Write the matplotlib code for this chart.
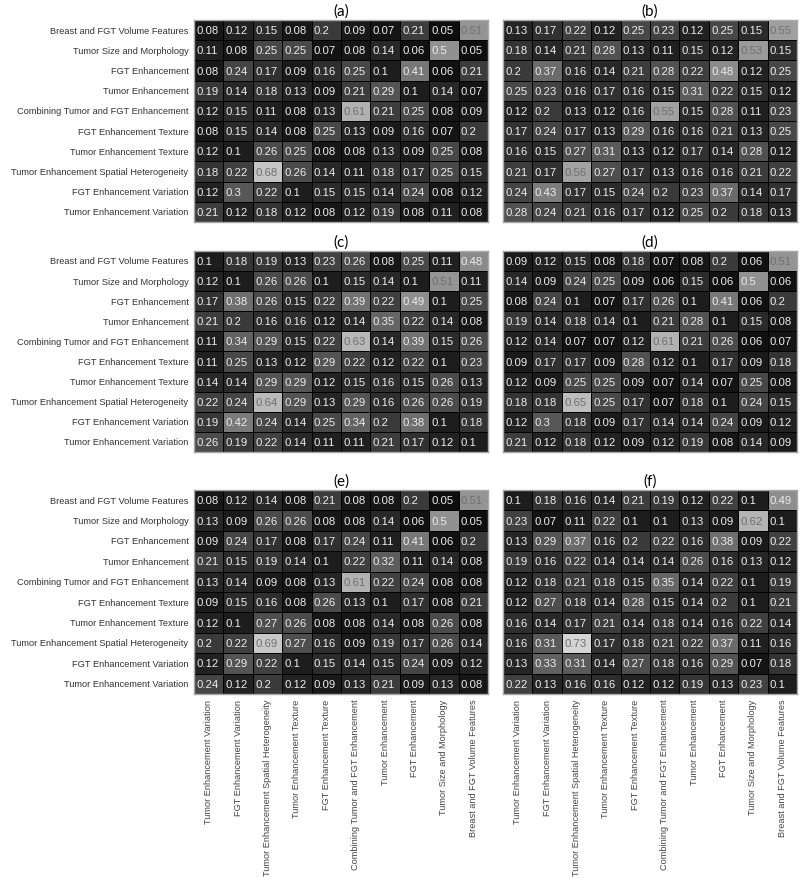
import numpy as np
import matplotlib
matplotlib.use('Agg')
import matplotlib.pyplot as plt

# Feature group names (rows top->bottom, columns are the reverse order)
row_labels = ['Breast and FGT Volume Features', 'Tumor Size and Morphology',
              'FGT Enhancement', 'Tumor Enhancement',
              'Combining Tumor and FGT Enhancement', 'FGT Enhancement Texture',
              'Tumor Enhancement Texture', 'Tumor Enhancement Spatial Heterogeneity',
              'FGT Enhancement Variation', 'Tumor Enhancement Variation']
col_labels = row_labels[::-1]

panel_titles = ['(a)', '(b)', '(c)', '(d)', '(e)', '(f)']

vals_a = [[0.08, 0.12, 0.15, 0.08, 0.2, 0.09, 0.07, 0.21, 0.05, 0.51],
          [0.11, 0.08, 0.25, 0.25, 0.07, 0.08, 0.14, 0.06, 0.5, 0.05],
          [0.08, 0.24, 0.17, 0.09, 0.16, 0.25, 0.1, 0.41, 0.06, 0.21],
          [0.19, 0.14, 0.18, 0.13, 0.09, 0.21, 0.29, 0.1, 0.14, 0.07],
          [0.12, 0.15, 0.11, 0.08, 0.13, 0.61, 0.21, 0.25, 0.08, 0.09],
          [0.08, 0.15, 0.14, 0.08, 0.25, 0.13, 0.09, 0.16, 0.07, 0.2],
          [0.12, 0.1, 0.26, 0.25, 0.08, 0.08, 0.13, 0.09, 0.25, 0.08],
          [0.18, 0.22, 0.68, 0.26, 0.14, 0.11, 0.18, 0.17, 0.25, 0.15],
          [0.12, 0.3, 0.22, 0.1, 0.15, 0.15, 0.14, 0.24, 0.08, 0.12],
          [0.21, 0.12, 0.18, 0.12, 0.08, 0.12, 0.19, 0.08, 0.11, 0.08]]

vals_b = [[0.13, 0.17, 0.22, 0.12, 0.25, 0.23, 0.12, 0.25, 0.15, 0.55],
          [0.18, 0.14, 0.21, 0.28, 0.13, 0.11, 0.15, 0.12, 0.53, 0.15],
          [0.2, 0.37, 0.16, 0.14, 0.21, 0.28, 0.22, 0.48, 0.12, 0.25],
          [0.25, 0.23, 0.16, 0.17, 0.16, 0.15, 0.31, 0.22, 0.15, 0.12],
          [0.12, 0.2, 0.13, 0.12, 0.16, 0.55, 0.15, 0.28, 0.11, 0.23],
          [0.17, 0.24, 0.17, 0.13, 0.29, 0.16, 0.16, 0.21, 0.13, 0.25],
          [0.16, 0.15, 0.27, 0.31, 0.13, 0.12, 0.17, 0.14, 0.28, 0.12],
          [0.21, 0.17, 0.56, 0.27, 0.17, 0.13, 0.16, 0.16, 0.21, 0.22],
          [0.24, 0.43, 0.17, 0.15, 0.24, 0.2, 0.23, 0.37, 0.14, 0.17],
          [0.28, 0.24, 0.21, 0.16, 0.17, 0.12, 0.25, 0.2, 0.18, 0.13]]

vals_c = [[0.1, 0.18, 0.19, 0.13, 0.23, 0.26, 0.08, 0.25, 0.11, 0.48],
          [0.12, 0.1, 0.26, 0.26, 0.1, 0.15, 0.14, 0.1, 0.51, 0.11],
          [0.17, 0.38, 0.26, 0.15, 0.22, 0.39, 0.22, 0.49, 0.1, 0.25],
          [0.21, 0.2, 0.16, 0.16, 0.12, 0.14, 0.35, 0.22, 0.14, 0.08],
          [0.11, 0.34, 0.29, 0.15, 0.22, 0.63, 0.14, 0.39, 0.15, 0.26],
          [0.11, 0.25, 0.13, 0.12, 0.29, 0.22, 0.12, 0.22, 0.1, 0.23],
          [0.14, 0.14, 0.29, 0.29, 0.12, 0.15, 0.16, 0.15, 0.26, 0.13],
          [0.22, 0.24, 0.64, 0.29, 0.13, 0.29, 0.16, 0.26, 0.26, 0.19],
          [0.19, 0.42, 0.24, 0.14, 0.25, 0.34, 0.2, 0.38, 0.1, 0.18],
          [0.26, 0.19, 0.22, 0.14, 0.11, 0.11, 0.21, 0.17, 0.12, 0.1]]

vals_d = [[0.09, 0.12, 0.15, 0.08, 0.18, 0.07, 0.08, 0.2, 0.06, 0.51],
          [0.14, 0.09, 0.24, 0.25, 0.09, 0.06, 0.15, 0.06, 0.5, 0.06],
          [0.08, 0.24, 0.1, 0.07, 0.17, 0.26, 0.1, 0.41, 0.06, 0.2],
          [0.19, 0.14, 0.18, 0.14, 0.1, 0.21, 0.28, 0.1, 0.15, 0.08],
          [0.12, 0.14, 0.07, 0.07, 0.12, 0.61, 0.21, 0.26, 0.06, 0.07],
          [0.09, 0.17, 0.17, 0.09, 0.28, 0.12, 0.1, 0.17, 0.09, 0.18],
          [0.12, 0.09, 0.25, 0.25, 0.09, 0.07, 0.14, 0.07, 0.25, 0.08],
          [0.18, 0.18, 0.65, 0.25, 0.17, 0.07, 0.18, 0.1, 0.24, 0.15],
          [0.12, 0.3, 0.18, 0.09, 0.17, 0.14, 0.14, 0.24, 0.09, 0.12],
          [0.21, 0.12, 0.18, 0.12, 0.09, 0.12, 0.19, 0.08, 0.14, 0.09]]

vals_e = [[0.08, 0.12, 0.14, 0.08, 0.21, 0.08, 0.08, 0.2, 0.05, 0.51],
          [0.13, 0.09, 0.26, 0.26, 0.08, 0.08, 0.14, 0.06, 0.5, 0.05],
          [0.09, 0.24, 0.17, 0.08, 0.17, 0.24, 0.11, 0.41, 0.06, 0.2],
          [0.21, 0.15, 0.19, 0.14, 0.1, 0.22, 0.32, 0.11, 0.14, 0.08],
          [0.13, 0.14, 0.09, 0.08, 0.13, 0.61, 0.22, 0.24, 0.08, 0.08],
          [0.09, 0.15, 0.16, 0.08, 0.26, 0.13, 0.1, 0.17, 0.08, 0.21],
          [0.12, 0.1, 0.27, 0.26, 0.08, 0.08, 0.14, 0.08, 0.26, 0.08],
          [0.2, 0.22, 0.69, 0.27, 0.16, 0.09, 0.19, 0.17, 0.26, 0.14],
          [0.12, 0.29, 0.22, 0.1, 0.15, 0.14, 0.15, 0.24, 0.09, 0.12],
          [0.24, 0.12, 0.2, 0.12, 0.09, 0.13, 0.21, 0.09, 0.13, 0.08]]

vals_f = [[0.1, 0.18, 0.16, 0.14, 0.21, 0.19, 0.12, 0.22, 0.1, 0.49],
          [0.23, 0.07, 0.11, 0.22, 0.1, 0.1, 0.13, 0.09, 0.62, 0.1],
          [0.13, 0.29, 0.37, 0.16, 0.2, 0.22, 0.16, 0.38, 0.09, 0.22],
          [0.19, 0.16, 0.22, 0.14, 0.14, 0.14, 0.26, 0.16, 0.13, 0.12],
          [0.12, 0.18, 0.21, 0.18, 0.15, 0.35, 0.14, 0.22, 0.1, 0.19],
          [0.12, 0.27, 0.18, 0.14, 0.28, 0.15, 0.14, 0.2, 0.1, 0.21],
          [0.16, 0.14, 0.17, 0.21, 0.14, 0.18, 0.14, 0.16, 0.22, 0.14],
          [0.16, 0.31, 0.73, 0.17, 0.18, 0.21, 0.22, 0.37, 0.11, 0.16],
          [0.13, 0.33, 0.31, 0.14, 0.27, 0.18, 0.16, 0.29, 0.07, 0.18],
          [0.22, 0.13, 0.16, 0.16, 0.12, 0.12, 0.19, 0.13, 0.23, 0.1]]

all_vals = [vals_a, vals_b, vals_c, vals_d, vals_e, vals_f]

regular = ['Liberation Sans', 'DejaVu Sans']

fig = plt.figure(figsize=(8, 8.82), dpi=100)
fig.patch.set_facecolor('white')

# axes boxes in figure fractions: [left, bottom, width, height]
lefts = [0.2425, 0.62875]
bottoms = [0.7483, 0.4875, 0.2132]
heights = [0.229, 0.228, 0.2313]
width = 0.3675

for k in range(6):
    r, c = k // 2, k % 2
    ax = fig.add_axes([lefts[c], bottoms[r], width, heights[r]])
    data = np.array(all_vals[k])
    n = data.shape[0]

    ax.pcolormesh(np.arange(n + 1) - 0.5, np.arange(n + 1) - 0.5, data,
                  cmap='gray', vmin=0, vmax=0.88,
                  edgecolors='black', linewidth=0.7)
    ax.set_xlim(-0.5, n - 0.5)
    ax.set_ylim(n - 0.5, -0.5)

    # cell values, left aligned like the original
    for i in range(n):
        for j in range(n):
            v = data[i, j]
            txt = ('%.2f' % v).rstrip('0')
            col = '#6f6f6f' if v > 0.505 else '#ececec'
            ax.text(j - 0.42, i + 0.05, txt, ha='left', va='center',
                    color=col, fontsize=8.2, family=regular)

    ax.set_title(panel_titles[k], fontsize=11, family=['Lato'] + regular, pad=3)

    for s in ax.spines.values():
        s.set_color('#a8a8a8')
        s.set_linewidth(1.0)
    ax.tick_params(length=0)

    if c == 0:
        ax.set_yticks(range(n))
        ax.set_yticklabels(row_labels, fontsize=6.7, family=regular,
                           color='#333333')
        ax.tick_params(axis='y', pad=4)
    else:
        ax.set_yticks([])

    if r == 2:
        ax.set_xticks(range(n))
        ax.set_xticklabels(col_labels, rotation=90, fontsize=6.6,
                           family=regular, color='#444444')
        ax.tick_params(axis='x', pad=4)
    else:
        ax.set_xticks([])

fig.savefig('out.png', dpi=100, facecolor='white')
